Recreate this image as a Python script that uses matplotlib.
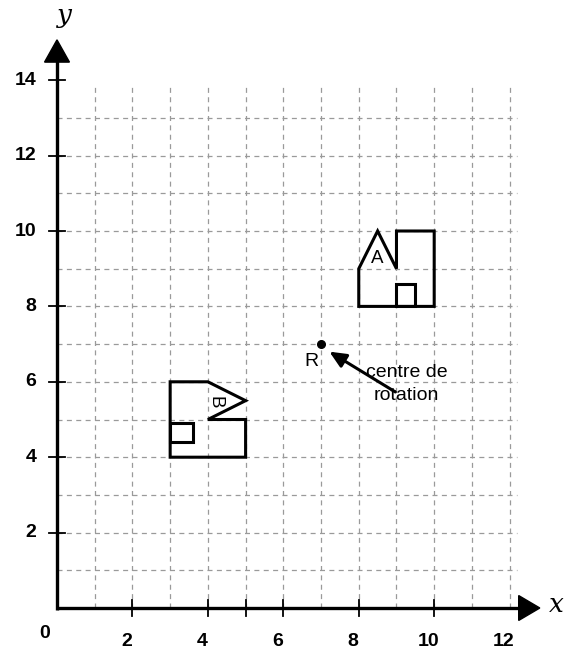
import numpy as np
import matplotlib.pyplot as plt
from matplotlib.patches import Polygon, Rectangle

# data
x_ticks = [2, 4, 5, 6, 8, 10]
x_label_pos = [2, 4, 6, 8, 10, 12]
y_ticks = [2, 4, 6, 8, 10, 12, 14]
grid_x = list(range(1, 13))
grid_y = list(range(1, 14))

shape_A = [(8, 8), (10, 8), (10, 10), (9, 10), (9, 9), (8.5, 10), (8, 9)]
door_A = (9, 8, 0.5, 0.6)
shape_B = [(3, 4), (5, 4), (5, 5), (4, 5), (5, 5.5), (4, 6), (3, 6)]
door_B = (3, 4.4, 0.6, 0.5)
centre_R = (7, 7)

fig = plt.figure(figsize=(5.68, 6.54), dpi=100)
ax = fig.add_axes([0, 0, 1, 1])
ax.set_xlim(-57 / 37.72, (568 - 57) / 37.72)
ax.set_ylim(-(654 - 608) / 37.7, 608 / 37.7)
ax.axis('off')

# dashed grid
for gx in grid_x:
    ax.plot([gx, gx], [0, 13.9], color='#9a9a9a', lw=0.9, ls=(0, (4, 3.5)), zorder=1)
for gy in grid_y:
    ax.plot([0, 12.2], [gy, gy], color='#9a9a9a', lw=0.9, ls=(0, (4, 3.5)), zorder=1)

# axes with arrows
ax.plot([0, 12.3], [0, 0], color='black', lw=2.4, zorder=3, solid_capstyle='butt')
ax.plot([0, 0], [-0.04, 14.5], color='black', lw=2.4, zorder=3, solid_capstyle='butt')
ax.add_patch(Polygon([(12.24, 0.33), (12.24, -0.33), (12.8, 0)], closed=True, color='black', zorder=4))
ax.add_patch(Polygon([(-0.33, 14.48), (0.33, 14.48), (0, 15.07)], closed=True, color='black', zorder=4))

# ticks
for t in x_ticks:
    ax.plot([t, t], [-0.22, 0.22], color='black', lw=1.3, zorder=3)
for t in y_ticks:
    ax.plot([-0.22, 0.22], [t, t], color='black', lw=1.3, zorder=3)

lab_font = dict(family='Liberation Sans', fontweight='bold', fontsize=14)
for t in x_label_pos:
    ax.text(t - 0.15, -0.9, str(t), ha='center', va='center', **lab_font)
for t in y_ticks:
    ax.text(-0.55, t, str(t), ha='right', va='center', **lab_font)
ax.text(-0.32, -0.67, '0', ha='center', va='center', **lab_font)

ax.text(0.2, 15.72, 'y', ha='center', va='center', fontsize=19, style='italic', family='DejaVu Serif')
ax.text(13.25, 0.1, 'x', ha='center', va='center', fontsize=19, style='italic', family='DejaVu Serif')

# shapes
ax.add_patch(Polygon(shape_A, closed=True, fill=False, ec='black', lw=2.2, joinstyle='miter', zorder=5))
ax.add_patch(Rectangle(door_A[:2], door_A[2], door_A[3], fill=False, ec='black', lw=2.2, zorder=5))
ax.add_patch(Polygon(shape_B, closed=True, fill=False, ec='black', lw=2.2, joinstyle='miter', zorder=5))
ax.add_patch(Rectangle(door_B[:2], door_B[2], door_B[3], fill=False, ec='black', lw=2.2, zorder=5))
ax.text(8.5, 9.28, 'A', ha='center', va='center', fontsize=13.5, family='Liberation Sans')
ax.text(4.2, 5.45, 'B', ha='center', va='center', fontsize=13.5, family='Liberation Sans', rotation=-90)

# centre of rotation
ax.plot(*centre_R, 'o', color='black', ms=5.5, zorder=6)
ax.text(6.74, 6.55, 'R', ha='center', va='center', fontsize=14, family='Liberation Sans')
ax.annotate('', xy=(7.22, 6.8), xytext=(8.97, 5.73),
            arrowprops=dict(arrowstyle='-|>,head_length=1.0,head_width=0.45', color='black', lw=2.2,
                            shrinkA=0, shrinkB=0))
ax.text(9.27, 5.94, 'centre de\nrotation', ha='center', va='center', fontsize=14,
        family='Liberation Sans', linespacing=1.45)

fig.savefig('out.png', dpi=100)
